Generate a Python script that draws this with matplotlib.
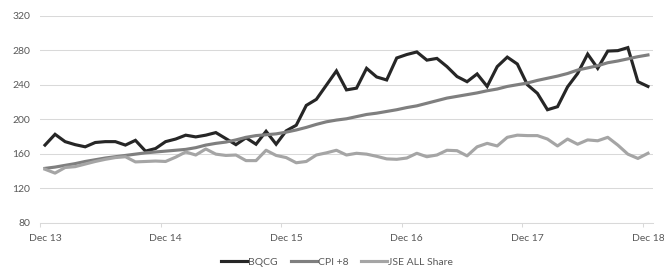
"""BQCG vs CPI +8 vs JSE ALL Share, monthly index Dec 13 - Dec 18."""
import matplotlib
matplotlib.use("Agg")
import matplotlib.pyplot as plt

year_labels = ["Dec 13", "Dec 14", "Dec 15", "Dec 16", "Dec 17", "Dec 18"]

bqcg = [170, 182.5, 174, 170.5, 168, 173, 174, 174, 170, 175.5, 163, 166,
        174, 177, 181.5, 179.5, 181.5, 184.5, 177.5, 170.5, 178.5, 171, 186, 171,
        186.5, 193, 216, 223, 239.5, 256, 234, 236, 259, 249, 245.5, 271,
        275, 278, 268.5, 270.5, 261, 249.5, 243.5, 252.5, 238, 261, 272, 264,
        240, 230, 211, 214.5, 237.5, 253, 275.5, 259, 279, 279.5, 283, 243.5,
        238]

cpi8 = [143, 144.5, 146.5, 148.5, 151, 153, 155, 156.5, 158, 159.5, 161, 162,
        163, 164, 165, 167, 170, 172, 173.5, 176, 179, 181, 182, 183,
        185, 187.5, 190.5, 194, 197, 199, 200.5, 203, 205.5, 207, 209, 211,
        213.5, 215.5, 218.5, 221.5, 224.5, 226.5, 228.5, 230.5, 233, 235, 238, 240,
        242, 245, 247.5, 250, 253, 257, 259.5, 262, 265.5, 267.5, 270, 272.5,
        274.5]

jse = [142, 137.5, 144, 145, 148, 151, 153.5, 155.5, 156.5, 150.5, 151, 151.5,
       151, 156, 162, 158.5, 165.5, 159.5, 158, 158.5, 152, 152, 164, 158,
       155.5, 149.5, 151, 158.5, 161, 164, 158.5, 160.5, 159.5, 157, 154, 153.5,
       155, 160.5, 156.5, 158.5, 164, 163.5, 157.5, 168, 172, 169, 179, 181.5,
       181, 181, 177, 169, 177, 171, 176, 175, 179, 170, 159.5, 154.5,
       160.5]

plt.rcParams["font.family"] = ["Lato", "DejaVu Sans"]
text_col = "#595959"
grid_col = "#d9d9d9"

months = list(range(len(bqcg)))

fig = plt.figure(figsize=(6.64, 2.71), dpi=100)
ax = fig.add_axes([0.0602, 0.1782, 0.9232, 0.7638])

ax.plot(months, bqcg, color="#262626", lw=2.25, label="BQCG", solid_joinstyle="miter")
ax.plot(months, cpi8, color="#7f7f7f", lw=2.25, label="CPI +8")
ax.plot(months, jse, color="#a5a5a5", lw=2.25, label="JSE ALL Share")

ax.set_ylim(80, 320)
ax.set_yticks(range(80, 321, 40))
ax.set_xlim(-0.5, len(months) - 0.5)

# labels sit on the Dec points, tick marks sit half a month to the left
ax.set_xticks(range(0, len(months), 12))
ax.set_xticklabels(year_labels)
ax.set_xticks([m - 0.5 for m in range(0, len(months), 12)], minor=True)
ax.tick_params(axis="x", which="major", length=0, pad=8, labelsize=7.5, labelcolor=text_col)
ax.tick_params(axis="x", which="minor", length=3, width=0.75, color=grid_col)
ax.tick_params(axis="y", length=0, pad=7, labelsize=7.5, labelcolor=text_col)

ax.grid(axis="y", color=grid_col, lw=0.75)
ax.set_axisbelow(True)
for side in ["top", "right", "left"]:
    ax.spines[side].set_visible(False)
ax.spines["bottom"].set_color(grid_col)
ax.spines["bottom"].set_linewidth(0.75)

fig.legend(loc="center", bbox_to_anchor=(337 / 664, 1 - 262 / 271), ncol=3,
           frameon=False, fontsize=7.5, handlelength=2.5, handletextpad=0.1,
           columnspacing=1.2, labelcolor=text_col)

plt.savefig("out.png", dpi=100)
plt.close()
